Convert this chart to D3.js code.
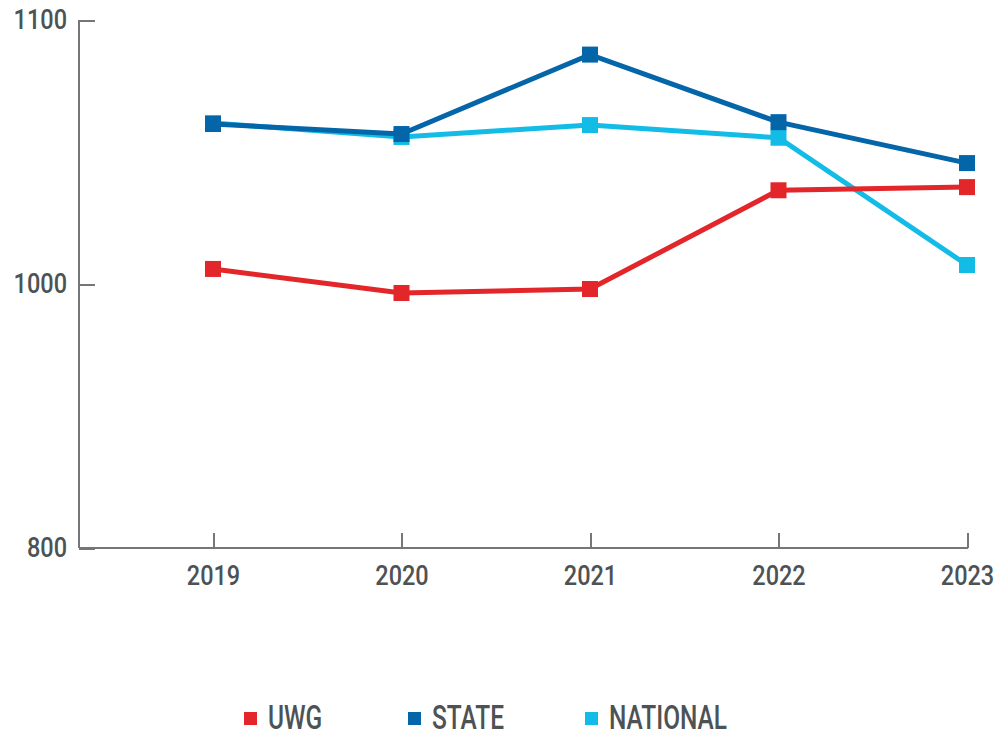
<!DOCTYPE html>
<html>
<head>
<meta charset="utf-8">
<title>UWG vs State vs National</title>
<script src="https://cdn.jsdelivr.net/npm/d3@7"></script>
<style>
	body { margin: 0; background: #ffffff; }
	text { font-family: "Roboto", "Liberation Sans", sans-serif; font-weight: 500; fill: #4d5254; }
	.axis path.domain { display: none; }
	.axis line, .baseline { stroke: #75767a; stroke-width: 2px; shape-rendering: crispEdges; }
	.axis text { font-size: 28px; }
	.legend text { font-size: 34px; }
</style>
</head>
<body>
<svg id="chart"></svg>
<script>
// data
var years = ["2019", "2020", "2021", "2022", "2023"];
var uwg = [1005.7, 993.2, 996.2, 1035.5, 1036.7];
var state = [1060.6, 1056.8, 1086.9, 1061.3, 1045.8];
var national = [1061, 1055.7, 1060.2, 1055.4, 1007.2];
var yTicks = [800, 1000, 1100];

var seriesNames = ["NATIONAL", "STATE", "UWG"];   // drawing order
var legendNames = ["UWG", "STATE", "NATIONAL"];
var colors = {UWG: "#e2262a", STATE: "#0565a9", NATIONAL: "#13bce6"};
var values = {UWG: uwg, STATE: state, NATIONAL: national};

var W = 1004, H = 732;
var plotLeft = 79, plotRight = 967, plotTop = 20, plotBottom = 548;
var firstX = 213;
var squeeze = 0.84;   // fake a condensed face

var svg = d3.select("#chart").attr("width", W).attr("height", H);

var x = d3.scalePoint().domain(years).range([firstX, plotRight]);
// the original axis puts 800, 1000 and 1100 at even spacing
var y = d3.scaleLinear().domain([800, 1000, 1100]).range([plotBottom, (plotBottom + plotTop) / 2, plotTop]);

// y axis, ticks point inward
var yAxis = svg.append("g")
	.attr("class", "axis")
	.attr("transform", "translate(" + plotLeft + ",0)")
	.call(d3.axisLeft(y).tickValues(yTicks).tickSizeInner(-16).tickSizeOuter(0).tickPadding(12).tickFormat(d3.format("d")));
yAxis.selectAll("text")
	.attr("x", -12 / squeeze)
	.attr("transform", "scale(" + squeeze + ",1)");

svg.append("line").attr("class", "baseline")
	.attr("x1", plotLeft).attr("x2", plotLeft).attr("y1", plotTop).attr("y2", plotBottom);

// x axis
var xAxis = svg.append("g")
	.attr("class", "axis")
	.attr("transform", "translate(0," + plotBottom + ")")
	.call(d3.axisBottom(x).tickSizeInner(-15).tickSizeOuter(0).tickPadding(17));
xAxis.selectAll("text").attr("transform", "scale(" + squeeze + ",1)");

svg.append("line").attr("class", "baseline")
	.attr("x1", plotLeft).attr("x2", plotRight + 1).attr("y1", plotBottom).attr("y2", plotBottom);

svg.append("line").attr("class", "baseline")
	.attr("x1", plotLeft).attr("x2", plotLeft).attr("y1", plotBottom).attr("y2", plotBottom - 15);

var line = d3.line()
	.x(function(d, i) { return x(years[i]); })
	.y(function(d) { return y(d); });

var msize = 16;

seriesNames.forEach(function(name) {
	var g = svg.append("g").attr("class", "series");
	g.append("path")
		.datum(values[name])
		.attr("d", line)
		.attr("fill", "none")
		.attr("stroke", colors[name])
		.attr("stroke-width", 5);
	g.selectAll("rect")
		.data(values[name])
		.enter()
		.append("rect")
		.attr("x", function(d, i) { return x(years[i]) - msize / 2; })
		.attr("y", function(d) { return y(d) - msize / 2; })
		.attr("width", msize)
		.attr("height", msize)
		.attr("fill", colors[name]);
});

// legend
var legendX = [244, 408, 585];
var legend = svg.append("g").attr("class", "legend");
legendNames.forEach(function(name, i) {
	legend.append("rect")
		.attr("x", legendX[i]).attr("y", 712)
		.attr("width", 13).attr("height", 13)
		.attr("fill", colors[name]);
	legend.append("g")
		.attr("transform", "translate(" + (legendX[i] + 24) + ",729) scale(0.72,1)")
		.append("text")
		.text(name);
});
</script>
</body>
</html>
